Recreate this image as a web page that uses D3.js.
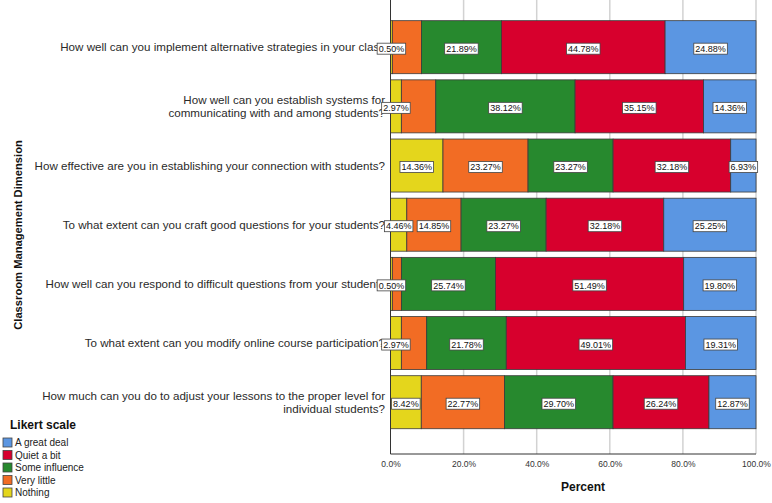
<!DOCTYPE html>
<html>
<head>
<meta charset="utf-8">
<script src="https://cdn.jsdelivr.net/npm/d3@7/dist/d3.min.js"></script>
<style>
  html, body { margin: 0; padding: 0; background: #fff; }
  svg { display: block; font-family: "Liberation Sans", Arial, sans-serif; }
</style>
</head>
<body>
<svg id="chart" width="772" height="503"></svg>
<script>
// ---------- Data ----------
const categories = [
  ["How well can you implement alternative strategies in your class"],
  ["How well can you establish systems for", "communicating with and among students?"],
  ["How effective are you in establishing your connection with students?"],
  ["To what extent can you craft good questions for your students?"],
  ["How well can you respond to difficult questions from your students"],
  ["To what extent can you modify online course participation?"],
  ["How much can you do to adjust your lessons to the proper level for", "individual students?"]
];
const seriesNames = ["Nothing", "Very little", "Some influence", "Quiet a bit", "A great deal"];
const nothing       = [0.50, 2.97, 14.36, 4.46, 0.50, 2.97, 8.42];
const veryLittle    = [7.96, 9.41, 23.27, 14.85, 2.48, 6.93, 22.77];
const someInfluence = [21.89, 38.12, 23.27, 23.27, 25.74, 21.78, 29.70];
const quietABit     = [44.78, 35.15, 32.18, 32.18, 51.49, 49.01, 26.24];
const greatDeal     = [24.88, 14.36, 6.93, 25.25, 19.80, 19.31, 12.87];
// which segment values carry a printed label in the reference
const showNothing    = [true, true, true, true, true, true, true];
const showVeryLittle = [false, false, true, true, false, false, true];
const xTicks = [0, 20, 40, 60, 80, 100];
const legendOrder = ["A great deal", "Quiet a bit", "Some influence", "Very little", "Nothing"];

// ---------- Setup ----------
const colors = {
  "Nothing": "#e4d61c",
  "Very little": "#f26c24",
  "Some influence": "#27892e",
  "Quiet a bit": "#d7002d",
  "A great deal": "#5b96e2"
};
const seriesValues = [nothing, veryLittle, someInfluence, quietABit, greatDeal];
const seriesShow = [showNothing, showVeryLittle, null, null, null];

const svg = d3.select("#chart");
const plot = { left: 390.5, right: 756, top: 0, bottom: 454 };

const x = d3.scaleLinear().domain([0, 100]).range([plot.left, plot.right]);
const y = d3.scaleBand().domain(d3.range(categories.length))
  .range([17.6, 431.8]).paddingInner(0.104).paddingOuter(0.052);

// gridlines
svg.append("g").selectAll("line").data(xTicks.filter(d => d > 0)).join("line")
  .attr("x1", d => x(d)).attr("x2", d => x(d))
  .attr("y1", plot.top).attr("y2", plot.bottom)
  .attr("stroke", "#d2d2d2").attr("stroke-width", 1.5);

// rows data
const rows = categories.map((c, i) => {
  let acc = 0;
  return seriesNames.map((s, k) => {
    const v = seriesValues[k][i];
    const seg = { row: i, name: s, v, x0: acc, x1: acc + v,
      show: seriesShow[k] ? seriesShow[k][i] : true };
    acc += v;
    return seg;
  });
});

// category labels
const catG = svg.append("g");
categories.forEach((lines, i) => {
  const cy = y(i) + y.bandwidth() / 2;
  const lh = 13;
  const t = catG.append("text")
    .attr("text-anchor", "end")
    .attr("font-size", 11.6).attr("fill", "#2a2a2a");
  lines.forEach((ln, j) => {
    t.append("tspan").attr("x", 385)
      .attr("y", cy + (j - (lines.length - 1) / 2) * lh + 4.1)
      .text(ln);
  });
});

// bars
const barG = svg.append("g");
rows.forEach(segs => {
  barG.selectAll(null).data(segs).join("rect")
    .attr("x", d => x(d.x0)).attr("width", d => x(d.x1) - x(d.x0))
    .attr("y", d => y(d.row)).attr("height", y.bandwidth())
    .attr("fill", d => colors[d.name])
    .attr("stroke", "#3a3a3a").attr("stroke-width", 0.8);
});

// axes lines
svg.append("line").attr("x1", plot.left).attr("x2", plot.left)
  .attr("y1", plot.top).attr("y2", plot.bottom).attr("stroke", "#333").attr("stroke-width", 1);
svg.append("line").attr("x1", plot.left).attr("x2", plot.right)
  .attr("y1", plot.bottom).attr("y2", plot.bottom).attr("stroke", "#333").attr("stroke-width", 1);

// value labels
const labG = svg.append("g");
rows.forEach(segs => {
  segs.filter(d => d.show).forEach(d => {
    const cx = (x(d.x0) + x(d.x1)) / 2;
    const cy = y(d.row) + y.bandwidth() / 2 + 1.5;
    const g = labG.append("g");
    const rect = g.append("rect").attr("fill", "#fff").attr("stroke", "#444").attr("stroke-width", 0.8);
    const t = g.append("text").attr("x", cx).attr("y", cy + 3.2)
      .attr("text-anchor", "middle").attr("font-size", 9).attr("fill", "#111")
      .text(d.v.toFixed(2) + "%");
    const w = t.node().getComputedTextLength();
    rect.attr("x", cx - w / 2 - 1.5).attr("y", cy - 5.5).attr("width", w + 3).attr("height", 11);
  });
});

// x tick labels
const xAxis = d3.axisBottom(x).tickValues(xTicks).tickSize(0).tickPadding(6)
  .tickFormat(d => d.toFixed(1) + "%");
const xg = svg.append("g").attr("transform", `translate(0,${plot.bottom + 1})`).call(xAxis);
xg.select(".domain").remove();
xg.selectAll("text").attr("font-size", 8.5).attr("fill", "#333")
  .attr("font-family", "'Liberation Sans', Arial, sans-serif");

// axis titles
svg.append("text").attr("x", 583).attr("y", 491).attr("text-anchor", "middle")
  .attr("font-size", 12).attr("font-weight", "bold").attr("fill", "#111").text("Percent");
svg.append("text").attr("transform", "translate(22,235) rotate(-90)")
  .attr("text-anchor", "middle").attr("font-size", 11.2).attr("font-weight", "bold")
  .attr("fill", "#111").text("Classroom Management Dimension");

// legend
const lg = svg.append("g");
lg.append("text").attr("x", 10).attr("y", 429).attr("font-size", 12)
  .attr("font-weight", "bold").attr("fill", "#111").text("Likert scale");
legendOrder.forEach((name, i) => {
  const cy = 442.5 + i * 12.5;
  lg.append("rect").attr("x", 3).attr("y", cy - 4.5).attr("width", 9).attr("height", 9)
    .attr("fill", colors[name]).attr("stroke", "#444").attr("stroke-width", 0.8);
  lg.append("text").attr("x", 15).attr("y", cy + 3.6).attr("font-size", 10)
    .attr("fill", "#222").text(name);
});
</script>
</body>
</html>
